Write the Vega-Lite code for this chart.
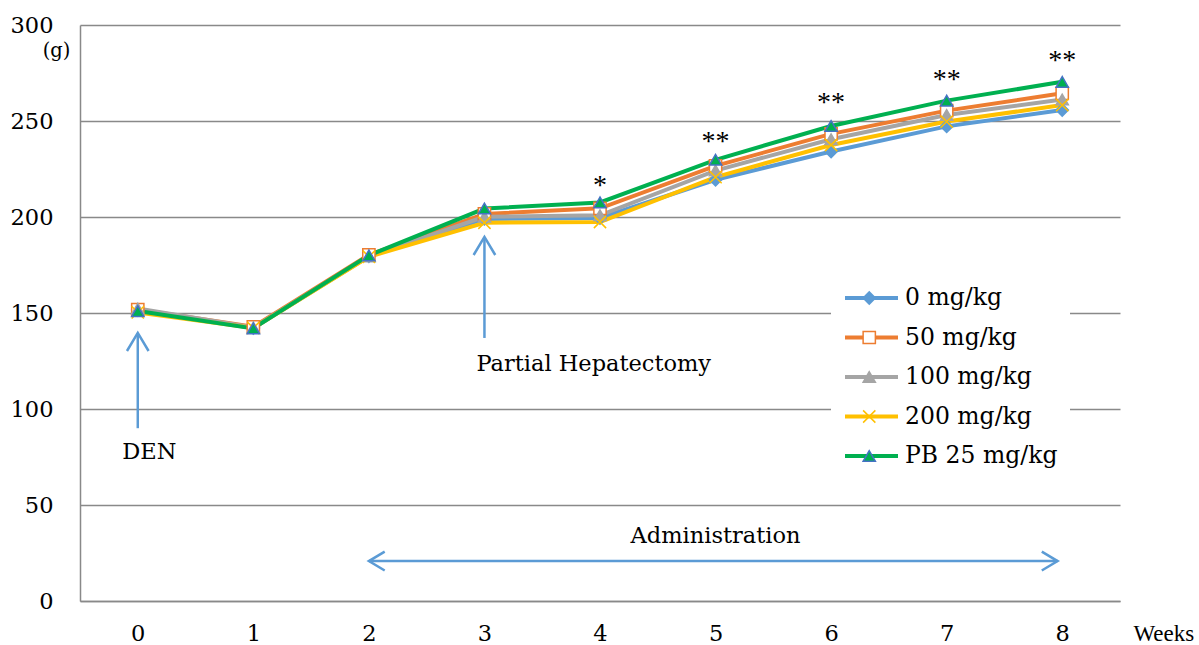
{
  "$schema": "https://vega.github.io/schema/vega-lite/v6.json",
  "width": 1040,
  "height": 576,
  "autosize": {"type": "none"},
  "padding": {"left": 80, "top": 25, "right": 79, "bottom": 44},
  "background": "white",
  "config": {"view": {"stroke": null}, "font": "DejaVu Serif"},
  "datasets": {
    "weights": [
      {"series": "0 mg/kg", "week": 0, "value": 151.5},
      {"series": "0 mg/kg", "week": 1, "value": 142.2},
      {"series": "0 mg/kg", "week": 2, "value": 179.5},
      {"series": "0 mg/kg", "week": 3, "value": 199.0},
      {"series": "0 mg/kg", "week": 4, "value": 199.5},
      {"series": "0 mg/kg", "week": 5, "value": 219.4},
      {"series": "0 mg/kg", "week": 6, "value": 234.1},
      {"series": "0 mg/kg", "week": 7, "value": 247.2},
      {"series": "0 mg/kg", "week": 8, "value": 255.7},
      {"series": "50 mg/kg", "week": 0, "value": 151.8},
      {"series": "50 mg/kg", "week": 1, "value": 142.8},
      {"series": "50 mg/kg", "week": 2, "value": 180.3},
      {"series": "50 mg/kg", "week": 3, "value": 201.6},
      {"series": "50 mg/kg", "week": 4, "value": 204.5},
      {"series": "50 mg/kg", "week": 5, "value": 226.6},
      {"series": "50 mg/kg", "week": 6, "value": 243.3},
      {"series": "50 mg/kg", "week": 7, "value": 255.4},
      {"series": "50 mg/kg", "week": 8, "value": 264.4},
      {"series": "100 mg/kg", "week": 0, "value": 152.3},
      {"series": "100 mg/kg", "week": 1, "value": 142.5},
      {"series": "100 mg/kg", "week": 2, "value": 179.5},
      {"series": "100 mg/kg", "week": 3, "value": 200.1},
      {"series": "100 mg/kg", "week": 4, "value": 200.9},
      {"series": "100 mg/kg", "week": 5, "value": 224.2},
      {"series": "100 mg/kg", "week": 6, "value": 240.5},
      {"series": "100 mg/kg", "week": 7, "value": 253.1},
      {"series": "100 mg/kg", "week": 8, "value": 261.2},
      {"series": "200 mg/kg", "week": 0, "value": 150.3},
      {"series": "200 mg/kg", "week": 1, "value": 142.2},
      {"series": "200 mg/kg", "week": 2, "value": 179.3},
      {"series": "200 mg/kg", "week": 3, "value": 197.0},
      {"series": "200 mg/kg", "week": 4, "value": 197.4},
      {"series": "200 mg/kg", "week": 5, "value": 220.8},
      {"series": "200 mg/kg", "week": 6, "value": 237.5},
      {"series": "200 mg/kg", "week": 7, "value": 249.7},
      {"series": "200 mg/kg", "week": 8, "value": 258.3},
      {"series": "PB 25 mg/kg", "week": 0, "value": 151.0},
      {"series": "PB 25 mg/kg", "week": 1, "value": 142.0},
      {"series": "PB 25 mg/kg", "week": 2, "value": 180.0},
      {"series": "PB 25 mg/kg", "week": 3, "value": 204.4},
      {"series": "PB 25 mg/kg", "week": 4, "value": 207.6},
      {"series": "PB 25 mg/kg", "week": 5, "value": 229.8},
      {"series": "PB 25 mg/kg", "week": 6, "value": 247.4},
      {"series": "PB 25 mg/kg", "week": 7, "value": 260.6},
      {"series": "PB 25 mg/kg", "week": 8, "value": 270.4}
    ],
    "notes": [
      {"week": 0.1, "value": 77.5, "label": "DEN"},
      {"week": 3.946, "value": 123.4, "label": "Partial Hepatectomy"},
      {"week": 5.0, "value": 33.9, "label": "Administration"}
    ],
    "stars": [
      {"week": 4, "value": 212.1, "label": "*"},
      {"week": 5, "value": 235.0, "label": "**"},
      {"week": 6, "value": 255.0, "label": "**"},
      {"week": 7, "value": 267.2, "label": "**"},
      {"week": 8, "value": 277.1, "label": "**"}
    ],
    "arrows": [
      {"week": 0, "week2": 0, "value": 90, "value2": 139.6},
      {"week": 3, "week2": 3, "value": 137, "value2": 189.6},
      {"week": 2, "week2": 7.96, "value": 20.8, "value2": 20.8}
    ],
    "heads": [
      {"week": 0, "value": 139.6, "dir": "up"},
      {"week": 3, "value": 189.6, "dir": "up"},
      {"week": 2, "value": 20.8, "dir": "left"},
      {"week": 7.96, "value": 20.8, "dir": "right"}
    ]
  },
  "layer": [
    {
      "data": {"name": "arrows"},
      "mark": {"type": "rule", "color": "#5B9BD5", "strokeWidth": 2.5},
      "encoding": {
        "x": {"field": "week", "type": "quantitative", "scale": {"domain": [-0.5, 8.5], "nice": false, "zero": false},
          "axis": {"values": [0, 1, 2, 3, 4, 5, 6, 7, 8], "format": "d", "grid": false, "ticks": false, "tickSize": 0,
            "domainColor": "#898989", "domainWidth": 1.5, "labelFont": "DejaVu Serif", "labelFontSize": 22.5,
            "labelColor": "black", "labelPadding": 21.5, "labelBaseline": "top",
            "title": "Weeks", "titleFont": "Liberation Serif", "titleFontSize": 23, "titleFontWeight": "normal",
            "titleColor": "black", "titleX": 1053, "titleY": 32.5, "titleAlign": "left", "titleBaseline": "middle", "titleAnchor": null}},
        "x2": {"field": "week2"},
        "y": {"field": "value", "type": "quantitative", "scale": {"domain": [0, 300], "nice": false},
          "axis": {"values": [0, 50, 100, 150, 200, 250, 300], "grid": true, "gridColor": "#898989", "gridWidth": 1.5,
            "ticks": false, "tickSize": 0, "domainColor": "#898989", "domainWidth": 1.5,
            "labelFont": "DejaVu Serif", "labelFontSize": 22.5, "labelColor": "black", "labelPadding": 27,
            "title": "(g)", "titleFont": "DejaVu Serif", "titleFontSize": 19.5, "titleFontWeight": "normal",
            "titleColor": "black", "titleAngle": 0, "titleX": -24, "titleY": 25, "titleAlign": "center", "titleBaseline": "middle"}},
        "y2": {"field": "value2"}
      }
    },
    {
      "data": {"name": "heads"},
      "transform": [{"filter": "datum.dir === 'up'"}],
      "mark": {"type": "point", "shape": "M-0.6,1L0,0L0.6,1", "filled": false, "stroke": "#5B9BD5", "strokeWidth": 2.5, "size": 1300, "opacity": 1},
      "encoding": {
        "x": {"field": "week", "type": "quantitative"},
        "y": {"field": "value", "type": "quantitative"}
      }
    },
    {
      "data": {"name": "heads"},
      "transform": [{"filter": "datum.dir === 'left'"}],
      "mark": {"type": "point", "shape": "M1,-0.6L0,0L1,0.6", "filled": false, "stroke": "#5B9BD5", "strokeWidth": 2.5, "size": 1000, "opacity": 1},
      "encoding": {
        "x": {"field": "week", "type": "quantitative"},
        "y": {"field": "value", "type": "quantitative"}
      }
    },
    {
      "data": {"name": "heads"},
      "transform": [{"filter": "datum.dir === 'right'"}],
      "mark": {"type": "point", "shape": "M-1,-0.6L0,0L-1,0.6", "filled": false, "stroke": "#5B9BD5", "strokeWidth": 2.5, "size": 1000, "opacity": 1},
      "encoding": {
        "x": {"field": "week", "type": "quantitative"},
        "y": {"field": "value", "type": "quantitative"}
      }
    },
    {
      "data": {"name": "weights"},
      "mark": {"type": "line", "strokeWidth": 4},
      "encoding": {
        "x": {"field": "week", "type": "quantitative"},
        "y": {"field": "value", "type": "quantitative"},
        "color": {"field": "series", "type": "nominal",
          "sort": ["0 mg/kg", "50 mg/kg", "100 mg/kg", "200 mg/kg", "PB 25 mg/kg"],
          "scale": {"range": ["#5B9BD5", "#ED7D31", "#A5A5A5", "#FFC000", "#00B050"]},
          "legend": {"orient": "none", "legendX": 751, "legendY": 247, "title": null, "padding": 12,
            "rowPadding": 11.5, "clipHeight": 28, "labelFont": "DejaVu Serif", "labelFontSize": 23.5, "labelColor": "black",
            "labelOffset": 5, "symbolType": "stroke", "symbolSize": 2809, "symbolStrokeWidth": 4,
            "fillColor": "white", "strokeColor": null}}
      }
    },
    {
      "data": {"name": "weights"},
      "mark": {"type": "point", "filled": true, "strokeWidth": 1.5, "opacity": 1, "size": 150},
      "encoding": {
        "x": {"field": "week", "type": "quantitative"},
        "y": {"field": "value", "type": "quantitative"},
        "shape": {"field": "series", "type": "nominal",
          "scale": {"domain": ["0 mg/kg", "50 mg/kg", "100 mg/kg", "200 mg/kg", "PB 25 mg/kg"],
                    "range": ["diamond", "square", "triangle-up", "M-1,-1L1,1M-1,1L1,-1", "triangle-up"]},
          "legend": {"orient": "none", "legendX": 765.5, "legendY": 247, "title": null, "padding": 12,
            "rowPadding": 11.5, "clipHeight": 28, "labelFont": "DejaVu Serif", "labelFontSize": 23.5,
            "labelExpr": "''", "labelOffset": 5, "symbolSize": 150, "symbolStrokeWidth": 1.5, "symbolOpacity": 1}},
        "fill": {"field": "series", "type": "nominal",
          "scale": {"domain": ["0 mg/kg", "50 mg/kg", "100 mg/kg", "200 mg/kg", "PB 25 mg/kg"],
                    "range": ["#5B9BD5", "#FFFFFF", "#A5A5A5", "#FFC000", "#00B050"]},
          "legend": {"orient": "none", "legendX": 765.5, "legendY": 247, "title": null}},
        "stroke": {"field": "series", "type": "nominal",
          "scale": {"domain": ["0 mg/kg", "50 mg/kg", "100 mg/kg", "200 mg/kg", "PB 25 mg/kg"],
                    "range": ["#5B9BD5", "#ED7D31", "#A5A5A5", "#FFC000", "#4472C4"]},
          "legend": {"orient": "none", "legendX": 765.5, "legendY": 247, "title": null}}
      }
    },
    {
      "data": {"name": "notes"},
      "mark": {"type": "text", "font": "DejaVu Serif", "fontSize": 22.5, "color": "black", "align": "center", "baseline": "middle"},
      "encoding": {
        "x": {"field": "week", "type": "quantitative"},
        "y": {"field": "value", "type": "quantitative"},
        "text": {"field": "label"}
      }
    },
    {
      "data": {"name": "stars"},
      "mark": {"type": "text", "font": "Liberation Serif", "fontSize": 28, "color": "black", "align": "center", "baseline": "alphabetic"},
      "encoding": {
        "x": {"field": "week", "type": "quantitative"},
        "y": {"field": "value", "type": "quantitative"},
        "text": {"field": "label"}
      }
    }
  ]
}
